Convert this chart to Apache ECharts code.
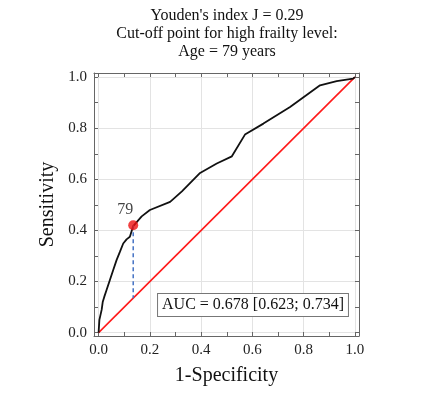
<!DOCTYPE html>
<html>
<head>
<meta charset="utf-8">
<script src="https://cdn.jsdelivr.net/npm/echarts@6/dist/echarts.min.js"></script>
<style>
html,body{margin:0;padding:0;background:#fff;}
#chart{width:437px;height:396px;}
</style>
</head>
<body>
<div id="chart"></div>
<script>
// ROC curve points (1-Specificity, Sensitivity)
var rocX = [0, 0.003, 0.009, 0.012, 0.016, 0.022, 0.031, 0.044, 0.057, 0.070, 0.083, 0.096, 0.109, 0.122, 0.135, 0.168, 0.200, 0.279, 0.325, 0.396, 0.461, 0.520, 0.571, 0.643, 0.747, 0.864, 0.929, 0.993, 1];
var rocY = [0, 0.050, 0.056, 0.090, 0.120, 0.140, 0.167, 0.206, 0.245, 0.284, 0.316, 0.349, 0.365, 0.375, 0.417, 0.455, 0.480, 0.512, 0.553, 0.625, 0.662, 0.690, 0.775, 0.818, 0.883, 0.968, 0.984, 0.994, 1];
// reference diagonal
var diagX = [0, 1];
var diagY = [0, 1];
// optimal cut-off point
var cutX = 0.135;
var cutY = 0.42;
var cutLabel = '79';
// tick values
var majorTicks = [0, 0.2, 0.4, 0.6, 0.8, 1.0];
var minorTicks = [0, 0.1, 0.2, 0.3, 0.4, 0.5, 0.6, 0.7, 0.8, 0.9, 1.0];
var titleLines = ["Youden's index J = 0.29", "Cut-off point for high frailty level:", "Age = 79 years"];
var aucText = 'AUC = 0.678 [0.623; 0.734]';
var xName = '1-Specificity';
var yName = 'Sensitivity';

var XMIN = -0.018, XMAX = 1.016, YMIN = -0.013, YMAX = 1.016;
var FONT = 'Liberation Serif';
var frameColor = '#666';

function pairs(xs, ys) { return xs.map(function (x, i) { return [x, ys[i]]; }); }

function mainAxis(pos, min, max, name, isX) {
  return {
    type: 'value', position: pos, min: min, max: max,
    name: name, nameLocation: 'middle', nameGap: isX ? 30 : 32,
    nameTextStyle: { fontFamily: FONT, fontSize: 20, color: '#111' },
    axisLine: { show: true, onZero: false, lineStyle: { color: frameColor, width: 1 } },
    axisTick: { show: true, inside: true, length: 4, customValues: minorTicks, lineStyle: { color: frameColor } },
    axisLabel: { show: true, customValues: majorTicks, margin: 7, fontFamily: FONT, fontSize: 15, color: '#222',
      formatter: function (v) { return v.toFixed(1); } },
    splitLine: { show: false }
  };
}
function sideAxis(pos, min, max) {
  return {
    type: 'value', position: pos, min: min, max: max,
    axisLine: { show: true, onZero: false, lineStyle: { color: frameColor, width: 1 } },
    axisTick: { show: true, inside: true, length: 4, customValues: minorTicks, lineStyle: { color: frameColor } },
    axisLabel: { show: false },
    splitLine: { show: false }
  };
}
function gridAxis(pos, min, max) {
  return {
    type: 'value', position: pos, min: min, max: max,
    axisLine: { show: false, onZero: false },
    axisTick: { show: false, customValues: majorTicks },
    axisLabel: { show: false },
    splitLine: { show: true, lineStyle: { color: '#e3e3e3', width: 1 } }
  };
}

var chart = echarts.init(document.getElementById('chart'), null, { renderer: 'canvas' });
chart.setOption({
  backgroundColor: '#fff',
  animation: false,
  grid: { left: 94, top: 73, width: 265, height: 263, containLabel: false },
  xAxis: [mainAxis('bottom', XMIN, XMAX, xName, true), sideAxis('top', XMIN, XMAX), gridAxis('bottom', XMIN, XMAX)],
  yAxis: [mainAxis('left', YMIN, YMAX, yName, false), sideAxis('right', YMIN, YMAX), gridAxis('left', YMIN, YMAX)],
  graphic: [
    { type: 'text', x: 227, y: 16, style: { text: titleLines[0], fontFamily: FONT, fontSize: 16, fill: '#111', align: 'center', verticalAlign: 'middle' } },
    { type: 'text', x: 227, y: 34, style: { text: titleLines[1], fontFamily: FONT, fontSize: 16, fill: '#111', align: 'center', verticalAlign: 'middle' } },
    { type: 'text', x: 227, y: 52, style: { text: titleLines[2], fontFamily: FONT, fontSize: 16, fill: '#111', align: 'center', verticalAlign: 'middle' } },
    { type: 'text', x: 253, y: 305, z: 100, style: { text: aucText, fontFamily: FONT, fontSize: 16, fill: '#111', align: 'center', verticalAlign: 'middle',
      backgroundColor: '#fff', borderColor: '#777', borderWidth: 1, padding: [3, 4, 3, 4] } }
  ],
  series: [
    { type: 'line', xAxisIndex: 0, yAxisIndex: 0, data: pairs(diagX, diagY), showSymbol: false, symbol: 'none',
      lineStyle: { color: '#ff1a1a', width: 1.6 }, z: 2 },
    { type: 'line', xAxisIndex: 0, yAxisIndex: 0, data: pairs(rocX, rocY), showSymbol: false, symbol: 'none',
      lineStyle: { color: '#111', width: 1.8 }, z: 3 },
    { type: 'line', xAxisIndex: 0, yAxisIndex: 0, data: [[cutX, cutY], [cutX, cutX]], showSymbol: false, symbol: 'none',
      lineStyle: { color: '#4472c4', width: 1.5, type: [4, 3] }, z: 4 },
    { type: 'scatter', xAxisIndex: 0, yAxisIndex: 0, data: [[cutX, cutY]], symbolSize: 10,
      itemStyle: { color: '#ee1111' }, z: 5,
      label: { show: true, position: 'top', offset: [-8, 2], formatter: cutLabel, fontFamily: FONT, fontSize: 16, color: '#111' } }
  ]
});
</script>
</body>
</html>
